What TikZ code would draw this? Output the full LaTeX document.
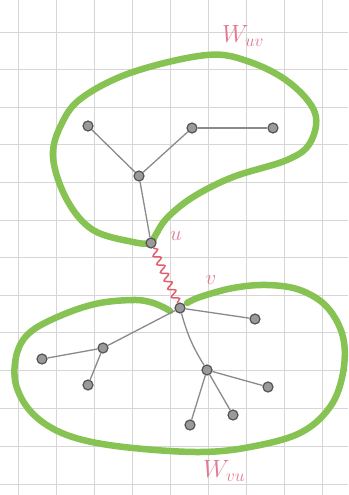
\documentclass[tikz,border=0pt]{standalone}
\usepackage{tikz}
\usetikzlibrary{positioning,decorations.pathmorphing}
\definecolor{gridline}{HTML}{D6D6D6}
\definecolor{blobgreen}{HTML}{86C352}
\definecolor{vtxfill}{HTML}{9A9A9A}
\definecolor{vtxline}{HTML}{555555}
\definecolor{edgegray}{HTML}{8A8A8A}
\definecolor{wavyred}{HTML}{E2606E}
\definecolor{labelpink}{HTML}{E4788E}
\tikzset{
  % --- tree vertices and edges ---
  vtx/.style={circle, draw=vtxline, fill=vtxfill, line width=1.2pt,
              minimum size=10pt, inner sep=0pt},
  treeedge/.style={draw=edgegray, line width=1.3pt},
  % --- the u--v bridge ---
  bridge/.style={draw=wavyred, line width=1.5pt,
                 decorate, decoration={snake, amplitude=3.5pt, segment length=9pt}},
  % --- the two sides W_uv, W_vu ---
  blob/.style={draw=blobgreen, line width=6.5pt, line cap=round, line join=round},
  lbl/.style={text=labelpink, font=\fontsize{20}{22}\selectfont},
  setlbl/.style={text=labelpink, font=\fontsize{26}{28}\selectfont},
}

\begin{document}
\begin{tikzpicture}[x=1pt, y=-1pt]
  \useasboundingbox[fill=white] (0,0) rectangle (348,495);
  % squared paper
  \foreach \gx in {18,56,94,132,170,208,246,284,322}
    \draw[gridline, line width=0.8pt] (\gx,0) -- (\gx,495);
  \foreach \gy in {32,69,107,144,182,220,257,295,332,370,408,446,484}
    \draw[gridline, line width=0.8pt] (0,\gy) -- (348,\gy);

  % green outlines
  \draw[blob] plot[smooth cycle, tension=0.6] coordinates {
    (151,243) (133,242) (93,230) (67,200) (53,157) (62,123) (83,97)
    (133,72) (207,55) (250,62) (290,83) (315,113) (310,143) (287,160)
    (233,177) (193,197) (167,218) (155,236)};
  \draw[blob] plot[smooth, tension=0.6] coordinates {
    (170,311) (163,307) (150,302) (133,300) (100,303) (67,313) (33,330)
    (18,350) (15,380) (27,407) (50,427) (83,440) (133,448) (200,452)
    (250,447) (300,433) (330,407) (343,373) (343,337) (327,307) (300,290)
    (267,285) (233,288) (200,297) (187,303)};

  % upper tree
  \node[vtx] (u)  at (151,243) {};
  \node[vtx] (c)  at (139,176) {};
  \node[vtx] (a1) at (88,126)  {};
  \node[vtx] (a2) at (192,128) {};
  \node[vtx] (a3) at (273,128) {};
  % lower tree
  \node[vtx] (v)  at (180,308) {};
  \node[vtx] (b1) at (255,319) {};
  \node[vtx] (b2) at (103,348) {};
  \node[vtx] (b3) at (42,359)  {};
  \node[vtx] (b4) at (88,385)  {};
  \node[vtx] (b5) at (207,370) {};
  \node[vtx] (b6) at (268,387) {};
  \node[vtx] (b7) at (233,415) {};
  \node[vtx] (b8) at (190,425) {};

  \draw[treeedge] (c) -- (a1);
  \draw[treeedge] (c) -- (a2);
  \draw[treeedge] (a2) -- (a3);
  \draw[treeedge] (c) -- (u);
  \draw[treeedge] (v) -- (b1);
  \draw[treeedge] (v) -- (b2);
  \draw[treeedge] (b2) -- (b3);
  \draw[treeedge] (b2) -- (b4);
  \draw[treeedge] (v) to[bend right=8] (b5);
  \draw[treeedge] (b5) -- (b6);
  \draw[treeedge] (b5) -- (b7);
  \draw[treeedge] (b5) -- (b8);

  \draw[bridge] (u) -- (v);

  % labels
  \node[lbl] (lu)   at (176,236) {$u$};
  \node[lbl] (lv)   at (211,280) {$v$};
  \node[setlbl] (wuv)  at (243,36)  {$W_{uv}$};
  \node[setlbl] (wvu)  at (224,471) {$W_{vu}$};
\end{tikzpicture}
\end{document}
